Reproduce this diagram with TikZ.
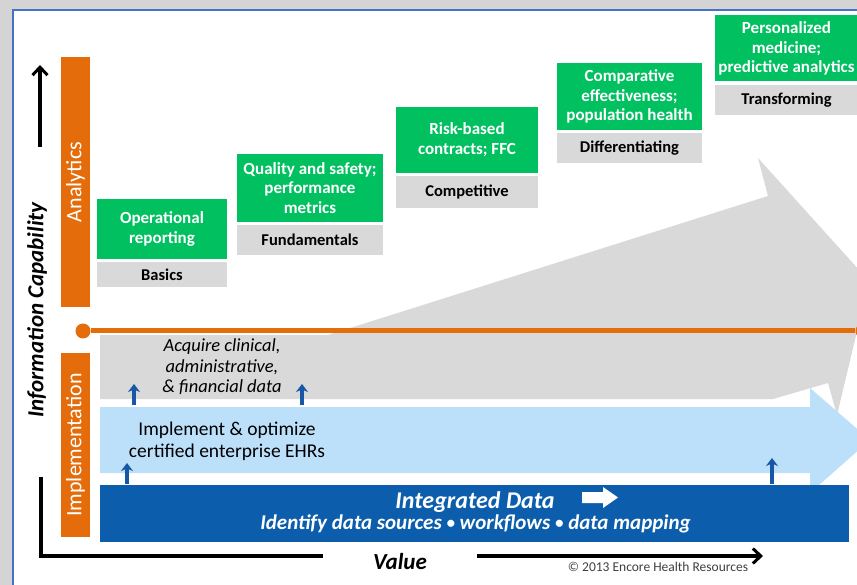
\documentclass[tikz,border=0pt]{standalone}
\usepackage{fontspec}
\usepackage{graphicx}
\setmainfont{Carlito}
\usetikzlibrary{arrows.meta}

\definecolor{grn}{RGB}{0,192,96}
\definecolor{lgray}{RGB}{217,217,217}
\definecolor{orng}{RGB}{228,108,10}
\definecolor{lblue}{RGB}{189,224,250}
\definecolor{dblue}{RGB}{12,94,172}
\definecolor{frameblue}{RGB}{68,114,196}
\definecolor{arrowblue}{RGB}{22,88,165}
\definecolor{shadowgray}{RGB}{212,212,212}

\newcommand{\fsz}[2]{\fontsize{#1}{#2}\selectfont}
\newcommand{\smallbul}{\raisebox{0.12ex}{\scalebox{0.8}{\textbullet}}}

\begin{document}
\begin{tikzpicture}[x=1pt,y=-1pt,
  greenbox/.style={fill=grn, text=white, inner sep=0pt, align=center,
    font=\bfseries\fsz{17}{19.8}},
  graybox/.style={fill=lgray, text=black, inner sep=0pt, align=center,
    font=\bfseries\fsz{16.5}{19}},
  orangebar/.style={fill=orng, text=white, inner sep=0pt, rotate=90,
    minimum height=29pt, font=\fsz{22}{24}},
  orangeline/.style={draw=orng, line width=5pt},
  orangedot/.style={circle, fill=orng, minimum size=15pt, inner sep=0pt},
  axisline/.style={draw=black, line width=3.2pt},
  axisarrow/.style={axisline, -{Straight Barb[length=8pt,width=15pt,line width=3pt]}},
  uparrow/.style={draw=arrowblue, line width=3.2pt,
    -{Stealth[length=8pt,width=12pt,inset=2.5pt]}},
  plain/.style={inner sep=0pt, align=center}
]
\useasboundingbox (0,0) rectangle (857,585);

% page shadow and slide frame
\fill[shadowgray] (0,0) rectangle (857,585);
\fill[white] (13,10) rectangle (857,585);
\draw[frameblue, line width=1.5pt] (13,585) -- (13,10) -- (857,10);

% large gray arrow rising to the right
\fill[lgray] (100,335) -- (328,335) -- (768,196) -- (758,158) -- (869,281)
  -- (837,415) -- (828,383) -- (773,399) -- (100,399) -- cycle;

% orange divider with end dots
\node[orangedot] (ldot) at (83,331) {};
\node[orangedot] (rdot) at (863,331) {};
\draw[orangeline] (ldot) -- (rdot);

% light blue arrow
\fill[lblue] (100,407) -- (810,407) -- (810,388) -- (870,440) -- (810,493)
  -- (810,473) -- (100,473) -- cycle;

% integrated data bar
\node[fill=dblue, minimum width=749pt, minimum height=57pt, inner sep=0pt]
  (intbar) at (474.5,513.5) {};
\node[plain, text=white, font=\bfseries\itshape\fsz{24}{26}]
  (inttitle) at (475,502) {Integrated Data};
\node[plain, text=white, font=\bfseries\itshape\fsz{21}{23}]
  (intsub) at (475.5,524) {Identify data sources \smallbul{} workflows \smallbul{} data mapping};
\fill[white] (582,492) -- (603,492) -- (603,487) -- (618,497.5) -- (603,508)
  -- (603,503) -- (582,503) -- cycle;

% texts in the arrows
\node[plain, font=\itshape\fsz{18.5}{20.5}] (acquire) at (222,367)
  {Acquire clinical,\\administrative,\\\& financial data};
\node[plain, font=\fsz{19.5}{22}] (implement) at (227,441)
  {Implement \& optimize\\certified enterprise EHRs};

% small upward arrows
\coordinate (ua1s) at (134,405); \coordinate (ua1e) at (134,384);
\coordinate (ua2s) at (302,405); \coordinate (ua2e) at (302,384);
\coordinate (ua3s) at (127,484); \coordinate (ua3e) at (127,463);
\coordinate (ua4s) at (772,484); \coordinate (ua4e) at (772,458);
\draw[uparrow] (ua1s) -- (ua1e);
\draw[uparrow] (ua2s) -- (ua2e);
\draw[uparrow] (ua3s) -- (ua3e);
\draw[uparrow] (ua4s) -- (ua4e);

% orange side bars
\node[orangebar, minimum width=250pt] (analytics) at (75.5,182) {Analytics};
\node[orangebar, minimum width=184pt] (implbar) at (75.5,445) {Implementation};

% stage boxes
\node[greenbox, minimum width=130pt, minimum height=60pt] (g1) at (162,229)
  {Operational\\reporting};
\node[graybox, minimum width=130pt, minimum height=25pt] (s1) at (162,274.5) {Basics};

\node[greenbox, minimum width=146pt, minimum height=68pt] (g2) at (310,188)
  {Quality and safety;\\performance\\metrics};
\node[graybox, minimum width=146pt, minimum height=30pt] (s2) at (310,240) {Fundamentals};

\node[greenbox, minimum width=142pt, minimum height=66pt] (g3) at (467,140)
  {Risk-based\\contracts; FFC};
\node[graybox, minimum width=142pt, minimum height=32pt] (s3) at (467,192) {Competitive};

\node[greenbox, minimum width=145pt, minimum height=67pt] (g4) at (629.5,96.5)
  {Comparative\\effectiveness;\\population health};
\node[graybox, minimum width=145pt, minimum height=30pt] (s4) at (629.5,148) {Differentiating};

\node[greenbox, minimum width=143pt, minimum height=66pt] (g5) at (786.5,48.5)
  {Personalized\\medicine;\\predictive analytics};
\node[graybox, minimum width=143pt, minimum height=30pt] (s5) at (786.5,100) {Transforming};

% axes
\node[plain, rotate=90, font=\bfseries\itshape\fsz{23}{25}] (infocap) at (37,310)
  {Information Capability};
\coordinate (capfoot) at (40,147);
\coordinate (captip) at (40,65);
\draw[axisarrow] (capfoot) -- (captip);

\coordinate (axtop) at (41,477);
\coordinate (axcorner) at (41,556);
\coordinate (axend) at (323,556);
\draw[axisline] (axtop) -- (axcorner) -- (axend);

\node[plain, font=\bfseries\itshape\fsz{23}{25}] (value) at (400,562) {Value};
\coordinate (valstart) at (477,556);
\coordinate (valtip) at (763,556);
\draw[axisarrow] (valstart) -- (valtip);

\node[plain, text=black!75, font=\fsz{13.5}{15}] (copy) at (658,567)
  {© 2013 Encore Health Resources};
\end{tikzpicture}
\end{document}
